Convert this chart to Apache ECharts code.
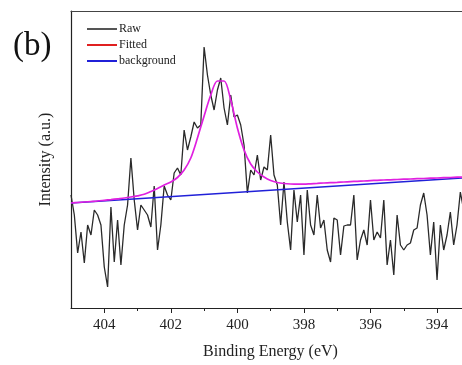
<!DOCTYPE html>
<html>
<head>
<meta charset="utf-8">
<script src="https://cdn.jsdelivr.net/npm/echarts@6/dist/echarts.min.js"></script>
<style>
  html, body { margin: 0; padding: 0; background: #fff; }
  #main { width: 462px; height: 365px; }
</style>
</head>
<body>
<div id="main"></div>
<script>
// binding energy range, eV (axis runs high -> low, cut at the right edge)
var energyMax = 405.0;
var energyMin = 393.25;
var energyStep = 0.1;
var fitStep = 0.2;

// raw counts, one per 0.1 eV starting at 405.0 eV
var rawIntensity = [
  113, 93, 55, 76, 45, 83, 73, 98, 93, 83,
  41, 21, 101, 46, 88, 43, 83, 103, 150, 108,
  78, 103, 98, 93, 81, 122, 58, 83, 122, 113,
  108, 135, 140, 133, 178, 158, 171, 186, 180, 183,
  261, 233, 213, 198, 218, 230, 200, 183, 213, 191,
  193, 183, 163, 115, 138, 133, 153, 128, 141, 138,
  173, 133, 123, 83, 126, 86, 58, 118, 86, 113,
  53, 118, 83, 73, 113, 80, 88, 58, 46, 90,
  88, 53, 82, 83, 83, 113, 48, 68, 78, 63,
  108, 68, 76, 70, 108, 43, 68, 33, 93, 63,
  58, 63, 65, 78, 80, 103, 115, 93, 53, 86,
  28, 83, 58, 73, 96, 63, 83, 116, 98
];

// fitted envelope, one per 0.2 eV starting at 405.0 eV
var fitIntensity = [
  105, 105.5, 106, 106.5, 107, 107.7, 108.4, 109.2, 110, 111,
  112.2, 113.7, 116.5, 119.5, 123, 126, 130.5, 138, 150, 170,
  192, 213, 227, 227, 208, 180, 158, 144, 136, 131,
  127.5, 125.5, 124.5, 124, 123.8, 123.8, 124.2, 124.6, 125, 125.3,
  125.6, 126, 126.4, 126.7, 127, 127.4, 127.7, 128, 128.2, 128.5,
  128.8, 129, 129.3, 129.5, 129.8, 130, 130.3, 130.5, 130.8, 131
];

// linear background end points
var bgEnergy = [405, 393];
var bgIntensity = [105, 130.5];

var majorTicks = [404, 402, 400, 398, 396, 394];
var minorTicks = [403, 401, 399, 397, 395];

var rawData = rawIntensity.map(function (v, i) {
  return [+(energyMax - i * energyStep).toFixed(2), v];
});
var fitData = fitIntensity.map(function (v, i) {
  return [+(energyMax - i * fitStep).toFixed(2), v];
});
var bgData = bgEnergy.map(function (e, i) { return [e, bgIntensity[i]]; });

var font = 'Liberation Serif';
var axisColor = '#222';
var myChart = echarts.init(document.getElementById('main'));

function energyAxis(extra) {
  return Object.assign({
    type: 'value',
    min: energyMin,
    max: energyMax,
    inverse: true,
    splitLine: { show: false }
  }, extra);
}

myChart.setOption({
  animation: false,
  backgroundColor: '#fff',
  title: {
    text: '(b)',
    left: 8,
    top: 25,
    textStyle: { fontFamily: font, fontSize: 33, fontWeight: 'normal', color: '#111' }
  },
  grid: { left: 71, top: 11, right: 0, bottom: 57 },
  legend: {
    orient: 'vertical',
    left: 82,
    top: 18,
    icon: 'rect',
    itemWidth: 30,
    itemHeight: 2,
    itemGap: 4,
    textStyle: { fontFamily: font, fontSize: 12, color: '#222', padding: [0, 0, 0, -3] },
    data: [
      { name: 'Raw', itemStyle: { color: '#555' } },
      { name: 'Fitted', itemStyle: { color: '#e02020' } },
      { name: 'background', itemStyle: { color: '#2020d8' } }
    ]
  },
  xAxis: [
    energyAxis({
      position: 'bottom',
      name: 'Binding Energy (eV)',
      nameLocation: 'middle',
      nameGap: 36,
      nameTextStyle: { fontFamily: font, fontSize: 16, color: axisColor, padding: [0, 0, 0, 8] },
      axisLine: { show: true, lineStyle: { color: axisColor, width: 1.2 } },
      axisTick: { show: true, length: 5, customValues: majorTicks, lineStyle: { color: axisColor } },
      axisLabel: { customValues: majorTicks, fontFamily: font, fontSize: 15, color: axisColor, margin: 10 }
    }),
    energyAxis({
      position: 'bottom',
      axisLine: { show: false },
      axisTick: { show: true, length: 3, customValues: minorTicks, lineStyle: { color: axisColor } },
      axisLabel: { show: false }
    }),
    energyAxis({
      position: 'top',
      axisLine: { show: true, lineStyle: { color: '#444', width: 1.2 } },
      axisTick: { show: false },
      axisLabel: { show: false }
    })
  ],
  yAxis: {
    type: 'value',
    min: 0,
    max: 297,
    name: 'Intensity (a.u.)',
    nameLocation: 'middle',
    nameRotate: 90,
    nameGap: 17,
    nameTextStyle: { fontFamily: font, fontSize: 16, color: axisColor },
    axisLine: { show: true, lineStyle: { color: axisColor, width: 1.2 } },
    axisTick: { show: false },
    axisLabel: { show: false },
    splitLine: { show: false }
  },
  series: [
    {
      name: 'Raw',
      type: 'line',
      data: rawData,
      symbol: 'none',
      lineStyle: { color: '#2a2a2a', width: 1.3 },
      itemStyle: { color: '#2a2a2a' },
      z: 2
    },
    {
      name: 'background',
      type: 'line',
      data: bgData,
      symbol: 'none',
      lineStyle: { color: '#2020d8', width: 1.6 },
      itemStyle: { color: '#2020d8' },
      z: 3
    },
    {
      name: 'Fitted',
      type: 'line',
      data: fitData,
      symbol: 'none',
      smooth: 0.3,
      lineStyle: { color: '#e020e0', width: 1.7 },
      itemStyle: { color: '#e020e0' },
      z: 4
    }
  ]
});
</script>
</body>
</html>
